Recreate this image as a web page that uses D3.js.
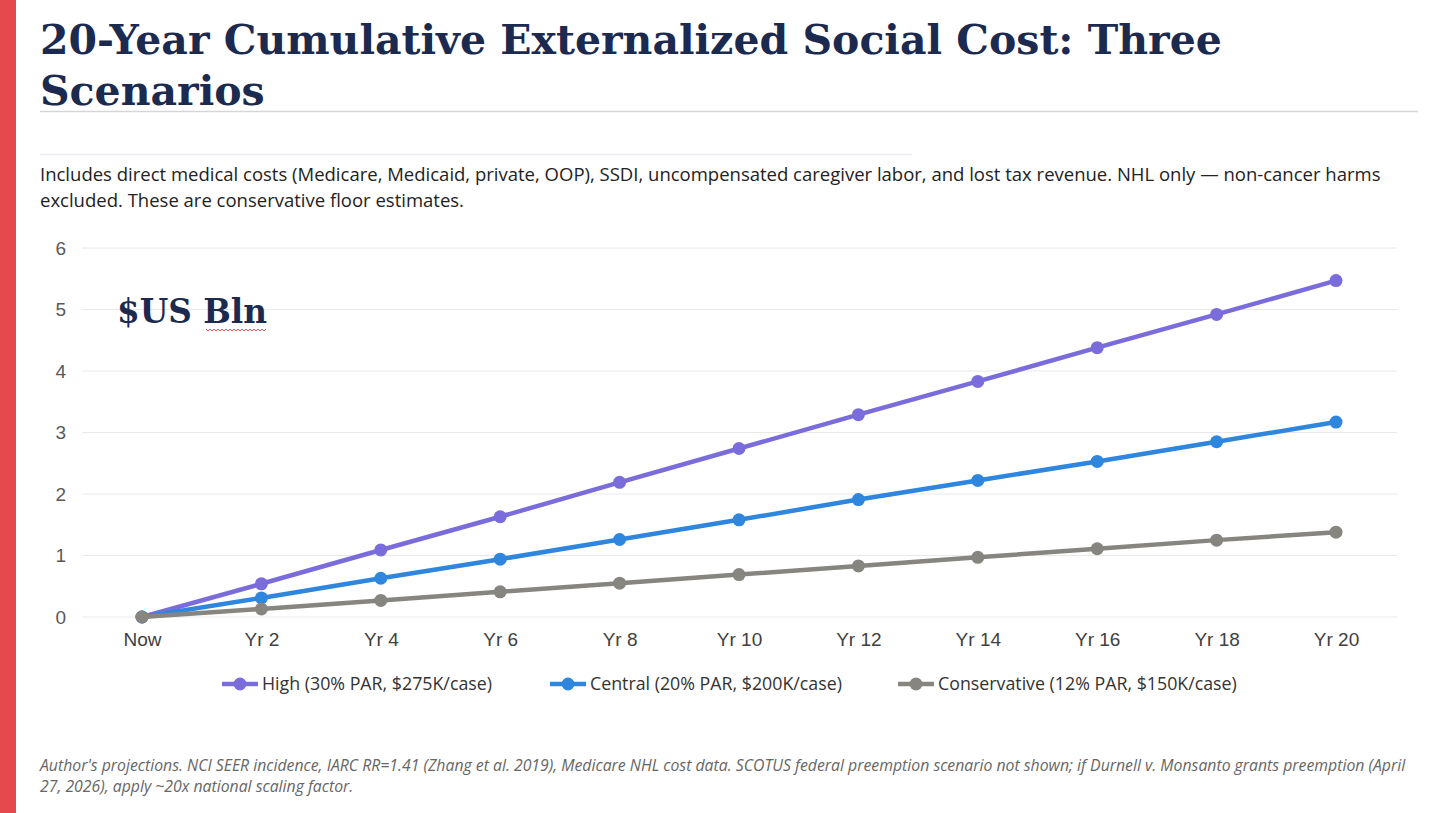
<!DOCTYPE html>
<html>
<head>
<meta charset='utf-8'>
<title>Social Cost</title>
<script src='https://d3js.org/d3.v7.min.js'></script>
<style>
body {margin:0; background:#fff;}
svg {display:block;}
</style>
</head>
<body>
<svg width=1456 height=813></svg>

<script>
var categories = ['Now','Yr 2','Yr 4','Yr 6','Yr 8','Yr 10','Yr 12','Yr 14','Yr 16','Yr 18','Yr 20']
var high = [0,0.54,1.09,1.63,2.19,2.74,3.29,3.83,4.38,4.92,5.47]
var central = [0,0.31,0.63,0.94,1.26,1.58,1.91,2.22,2.53,2.85,3.17]
var conservative = [0,0.13,0.27,0.41,0.55,0.69,0.83,0.97,1.11,1.25,1.38]
var seriesNames = ['High (30% PAR, $275K/case)','Central (20% PAR, $200K/case)','Conservative (12% PAR, $150K/case)']
var yTicks = [0,1,2,3,4,5,6]

var colors = ['#7b6cdb','#2e86de','#86857f']
var series = [high, central, conservative]

var svg = d3.select('svg')

// red bar on the left
svg.append('rect')
   .attr('x',0).attr('y',0)
   .attr('width',16).attr('height',813)
   .attr('fill','#e5484d')

// title
var title = svg.append('text')
   .attr('x',40)
   .attr('font-family','DejaVu Serif')
   .attr('font-weight','bold')
   .attr('font-size',41)
   .attr('fill','#1b2a4e')
title.append('tspan').attr('x',40).attr('y',54).text('20-Year Cumulative Externalized Social Cost: Three')
title.append('tspan').attr('x',40).attr('y',105).text('Scenarios')

// rules
svg.append('line')
   .attr('x1',40).attr('x2',1418).attr('y1',111.5).attr('y2',111.5)
   .attr('stroke','#d6d6d6').attr('stroke-width',1.5)
svg.append('line')
   .attr('x1',40).attr('x2',912).attr('y1',154.5).attr('y2',154.5)
   .attr('stroke','#ececf8').attr('stroke-width',1.5)

// subtitle
var sub = svg.append('text')
   .attr('font-family','Open Sans')
   .attr('font-size',18.5)
   .attr('fill','#222')
sub.append('tspan').attr('x',40).attr('y',181).text('Includes direct medical costs (Medicare, Medicaid, private, OOP), SSDI, uncompensated caregiver labor, and lost tax revenue. NHL only \u2014 non-cancer harms')
sub.append('tspan').attr('x',40).attr('y',207).text('excluded. These are conservative floor estimates.')

// scales
var x = d3.scalePoint().domain(categories).range([142,1336])
var y = d3.scaleLinear().domain([0,6]).range([617,248])

// gridlines
svg.append('g')
   .selectAll('line')
   .data(yTicks)
   .enter()
   .append('line')
     .attr('x1',82).attr('x2',1397)
     .attr('y1',function(d) {return y(d);})
     .attr('y2',function(d) {return y(d);})
     .attr('stroke','#e8e8e8')
     .attr('stroke-width',1)

// y axis labels
var yAxis = svg.append('g')
   .attr('transform','translate(82,0)')
   .call(d3.axisLeft(y).tickValues(yTicks).tickSize(0).tickPadding(16).tickFormat(d3.format('d')))
yAxis.select('.domain').remove()
yAxis.selectAll('text')
   .attr('font-family','Liberation Sans')
   .attr('font-size',19)
   .attr('fill','#595959')

// x axis labels
var xAxis = svg.append('g')
   .attr('transform','translate(0,617)')
   .call(d3.axisBottom(x).tickSize(0).tickPadding(16))
xAxis.select('.domain').remove()
xAxis.selectAll('text')
   .attr('font-family','Liberation Sans')
   .attr('font-size',19)
   .attr('fill','#404040')

// lines and markers, drawn back to front
var line = d3.line()
   .x(function(d,i) {return x(categories[i]);})
   .y(function(d) {return y(d);})

for (var s = 0; s < series.length; s++) {
   svg.append('path')
      .datum(series[s])
      .attr('d',line)
      .attr('fill','none')
      .attr('stroke',colors[s])
      .attr('stroke-width',4.5)
      .attr('stroke-linejoin','round')
   svg.append('g')
      .selectAll('circle')
      .data(series[s])
      .enter()
      .append('circle')
        .attr('cx',function(d,i) {return x(categories[i]);})
        .attr('cy',function(d) {return y(d);})
        .attr('r',6.5)
        .attr('fill',colors[s])
}

// $US Bln label
svg.append('text')
   .attr('x',117).attr('y',323)
   .attr('font-family','DejaVu Serif')
   .attr('font-weight','bold')
   .attr('font-size',32.7)
   .attr('fill','#1b2a4e')
   .text('$US Bln')
// spell-check squiggle under Bln
var squiggle = d3.path()
squiggle.moveTo(206,329)
for (var k = 0; k < 30; k++) {
   squiggle.lineTo(208 + k*2, k % 2 ? 329 : 331)
}
svg.append('path')
   .attr('d',squiggle.toString())
   .attr('fill','none')
   .attr('stroke','#e03030')
   .attr('stroke-width',0.8)

// legend
var legendX = [222,550,898]
var legend = svg.append('g')
   .selectAll('g')
   .data(seriesNames)
   .enter()
   .append('g')
     .attr('transform',function(d,i) {return 'translate('+legendX[i]+',684)';})
legend.append('line')
   .attr('x1',0).attr('x2',36)
   .attr('stroke',function(d,i) {return colors[i];})
   .attr('stroke-width',4.5)
legend.append('circle')
   .attr('cx',18).attr('r',6.5)
   .attr('fill',function(d,i) {return colors[i];})
legend.append('text')
   .attr('x',40).attr('y',6)
   .attr('font-family','Open Sans')
   .attr('font-size',17.8)
   .attr('fill','#333')
   .text(function(d) {return d;})

// footnote
var foot = svg.append('text')
   .attr('font-family','Open Sans')
   .attr('font-style','italic')
   .attr('font-size',15.8)
   .attr('fill','#666')
foot.append('tspan').attr('x',40).attr('y',771).text("Author's projections. NCI SEER incidence, IARC RR=1.41 (Zhang et al. 2019), Medicare NHL cost data. SCOTUS federal preemption scenario not shown; if Durnell v. Monsanto grants preemption (April")
foot.append('tspan').attr('x',40).attr('y',792).text('27, 2026), apply ~20x national scaling factor.')
</script>
</body>
</html>
